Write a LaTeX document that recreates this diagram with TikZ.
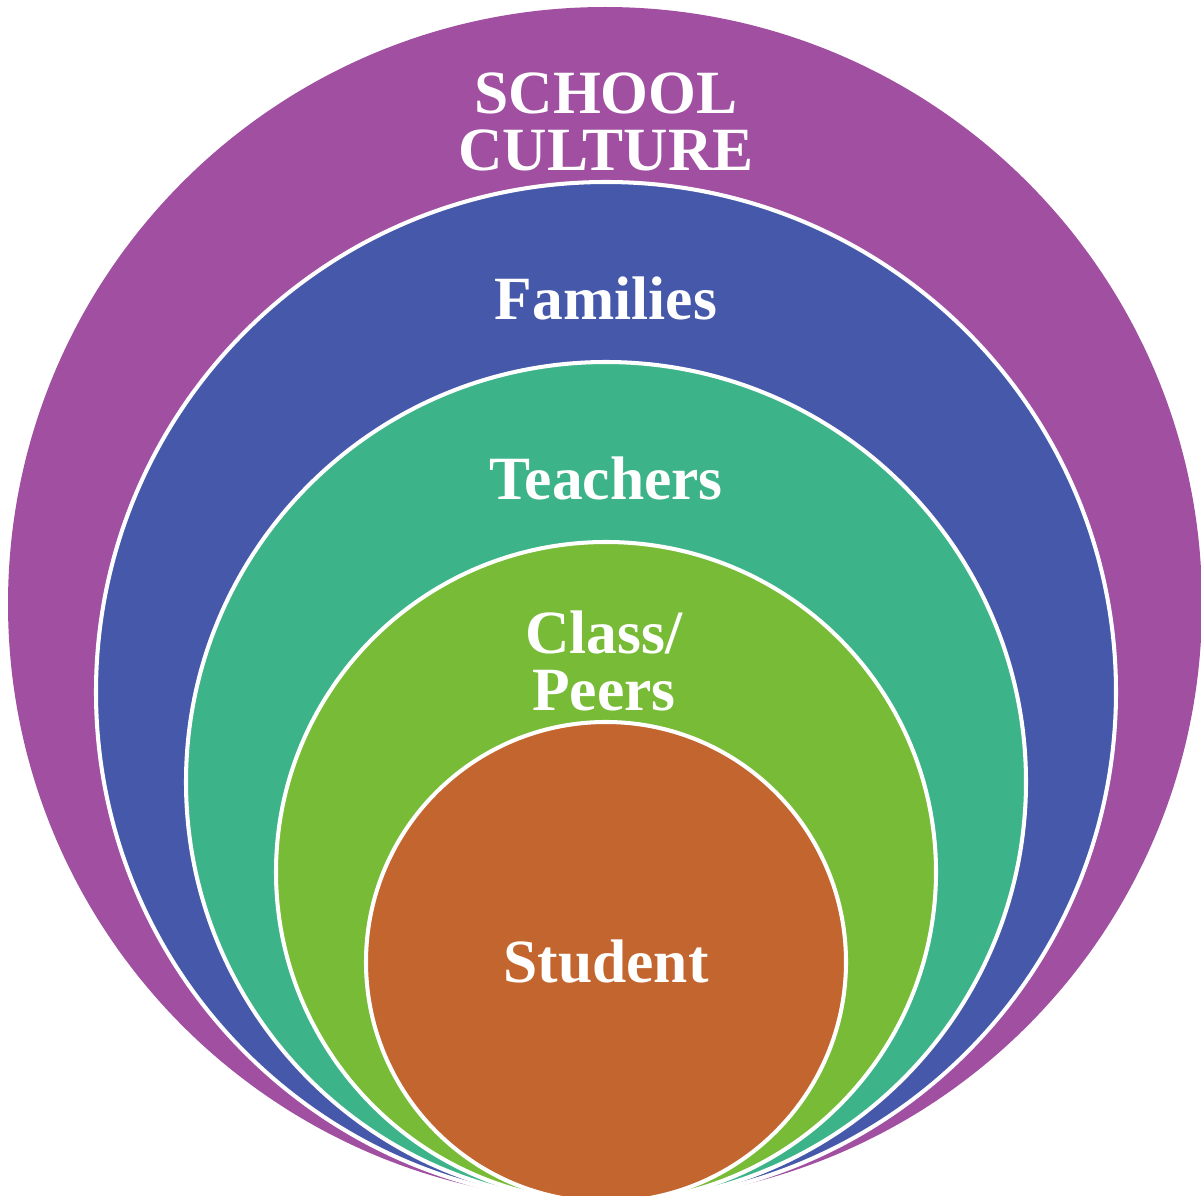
\documentclass[tikz,border=0pt]{standalone}
\usepackage{fontspec}
\newfontfamily\ringfont{Liberation Serif}
\definecolor{schoolc}{HTML}{A04FA1}
\definecolor{familyc}{HTML}{4558AA}
\definecolor{teacherc}{HTML}{3DB38A}
\definecolor{classc}{HTML}{78BB37}
\definecolor{studentc}{HTML}{C3652E}

\begin{document}
\begin{tikzpicture}[x=0.02cm,y=-0.02cm,
		ring/.style={draw=white,line width=2.3pt},
		lbl/.style={text=white,align=center,font=\ringfont\bfseries\fontsize{35}{32.5}\selectfont}]
		\useasboundingbox (0,0) rectangle (1201,1196);
		\clip (0,0) rectangle (1201,1196);
		\fill[schoolc] (605,604) circle (597);
		\filldraw[ring,fill=familyc] (606,692) circle (510);
		\filldraw[ring,fill=teacherc] (606,782) circle (420);
		\filldraw[ring,fill=classc] (606,872) circle (330);
		\filldraw[ring,fill=studentc] (606,962) circle (240);
		\node[lbl] (school) at (606,122) {SCHOOL\\CULTURE};
		\node[lbl] (families) at (606,298) {Families};
		\node[lbl] (teachers) at (606,478) {Teachers};
		\node[lbl] (class) at (604,661) {Class/\\Peers};
		\node[lbl] (student) at (606,962) {Student};
		\end{tikzpicture}
\end{document}
